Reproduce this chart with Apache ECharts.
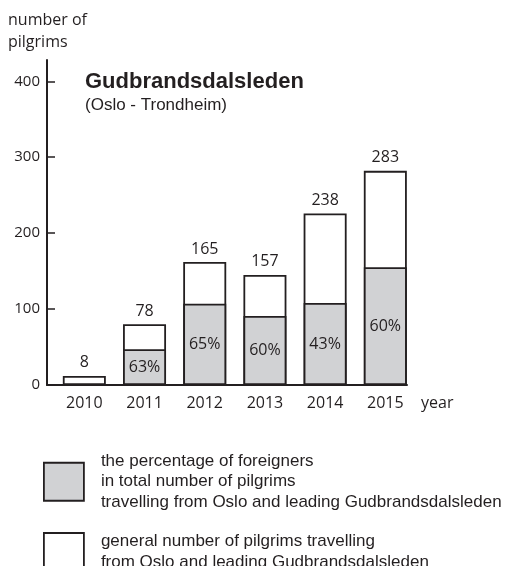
<!DOCTYPE html>
<html>
<head>
<meta charset="utf-8">
<script src="https://cdn.jsdelivr.net/npm/echarts@6/dist/echarts.min.js"></script>
<style>
  html, body { margin: 0; padding: 0; background: #fff; }
  #chart { width: 507px; height: 566px; }
</style>
</head>
<body>
<div id="chart"></div>
<script>
// data
const years = [2010, 2011, 2012, 2013, 2014, 2015]
// bar heights as drawn
const totalHeights = [12, 80, 162, 145, 226, 282]
const foreignHeights = [null, 47, 107, 91, 108, 155]
// printed labels
const totalLabels = [8, 78, 165, 157, 238, 283]
const foreignShare = [null, 63, 65, 60, 43, 60]
const yTicks = [0, 100, 200, 300, 400]

const ink = '#231f20'
const grey = '#d1d2d4'
const numFont = 'Open Sans'
const textFont = 'Liberation Sans'

const nameForeign = 'the percentage of foreigners\nin total number of pilgrims\ntravelling from Oslo and leading Gudbrandsdalsleden'
const nameTotal = 'general number of pilgrims travelling\nfrom Oslo and leading Gudbrandsdalsleden'

const myChart = echarts.init(document.getElementById('chart'), null, { renderer: 'canvas' })

const option = {
  animation: false,
  backgroundColor: '#fff',
  title: [
    {
      text: 'number of\npilgrims',
      left: 8,
      top: 9,
      padding: 0,
      textStyle: { fontFamily: numFont, fontWeight: 'normal', fontSize: 16, lineHeight: 22, color: ink },
    },
    {
      text: 'Gudbrandsdalsleden',
      left: 85,
      top: 71,
      padding: 0,
      textStyle: { fontFamily: textFont, fontWeight: 'bold', fontSize: 22, color: ink },
    },
    {
      text: '(Oslo - Trondheim)',
      left: 85,
      top: 97,
      padding: 0,
      textStyle: { fontFamily: textFont, fontWeight: 'normal', fontSize: 17, color: ink },
    },
  ],
  legend: {
    orient: 'vertical',
    left: 43,
    top: 451,
    height: 200,
    padding: 0,
    itemWidth: 40,
    itemHeight: 38,
    itemGap: 19,
    icon: 'rect',
    data: [nameForeign, nameTotal],
    itemStyle: { borderColor: ink, borderWidth: 1.8 },
    textStyle: { fontFamily: textFont, fontSize: 17, lineHeight: 20.5, color: ink, padding: [0, 0, 0, 12] },
    selectedMode: false,
  },
  grid: { left: 47, right: 100, top: 60, bottom: 181 },
  xAxis: {
    type: 'value',
    min: 2009.38,
    max: 2015.36,
    name: 'year',
    nameLocation: 'end',
    nameGap: 14,
    nameTextStyle: { fontFamily: numFont, fontSize: 16, color: ink, verticalAlign: 'top', padding: [10, 0, 0, 0] },
    axisLine: { lineStyle: { color: ink, width: 2 } },
    axisTick: { show: false },
    splitLine: { show: false },
    axisLabel: {
      customValues: years,
      formatter: v => String(v),
      fontFamily: numFont,
      fontSize: 16,
      color: ink,
      margin: 10,
    },
  },
  yAxis: {
    type: 'value',
    min: 0,
    max: 428,
    axisLine: { show: true, lineStyle: { color: ink, width: 2 } },
    axisTick: { show: true, inside: true, length: 8, customValues: yTicks, lineStyle: { color: ink, width: 1.5 } },
    splitLine: { show: false },
    axisLabel: { customValues: yTicks, fontFamily: numFont, fontSize: 15, color: ink, margin: 7 },
  },
  series: [
    {
      name: nameTotal,
      type: 'bar',
      barWidth: 43,
      barGap: '-100%',
      itemStyle: { color: '#fff', borderColor: ink, borderWidth: 1.8 },
      label: {
        show: true,
        position: 'top',
        distance: 5,
        fontFamily: numFont,
        fontSize: 16,
        color: ink,
        formatter: p => totalLabels[p.dataIndex],
      },
      data: years.map((y, i) => [y, totalHeights[i]]),
    },
    {
      name: nameForeign,
      type: 'bar',
      barWidth: 43,
      barGap: '-100%',
      itemStyle: { color: grey, borderColor: ink, borderWidth: 1.8 },
      label: {
        show: true,
        position: 'inside',
        fontFamily: numFont,
        fontSize: 16,
        color: ink,
        formatter: p => foreignShare[p.dataIndex] == null ? '' : foreignShare[p.dataIndex] + '%',
      },
      data: years.map((y, i) => [y, foreignHeights[i] == null ? '-' : foreignHeights[i]]),
    },
  ],
}

myChart.setOption(option, true)
</script>
</body>
</html>
